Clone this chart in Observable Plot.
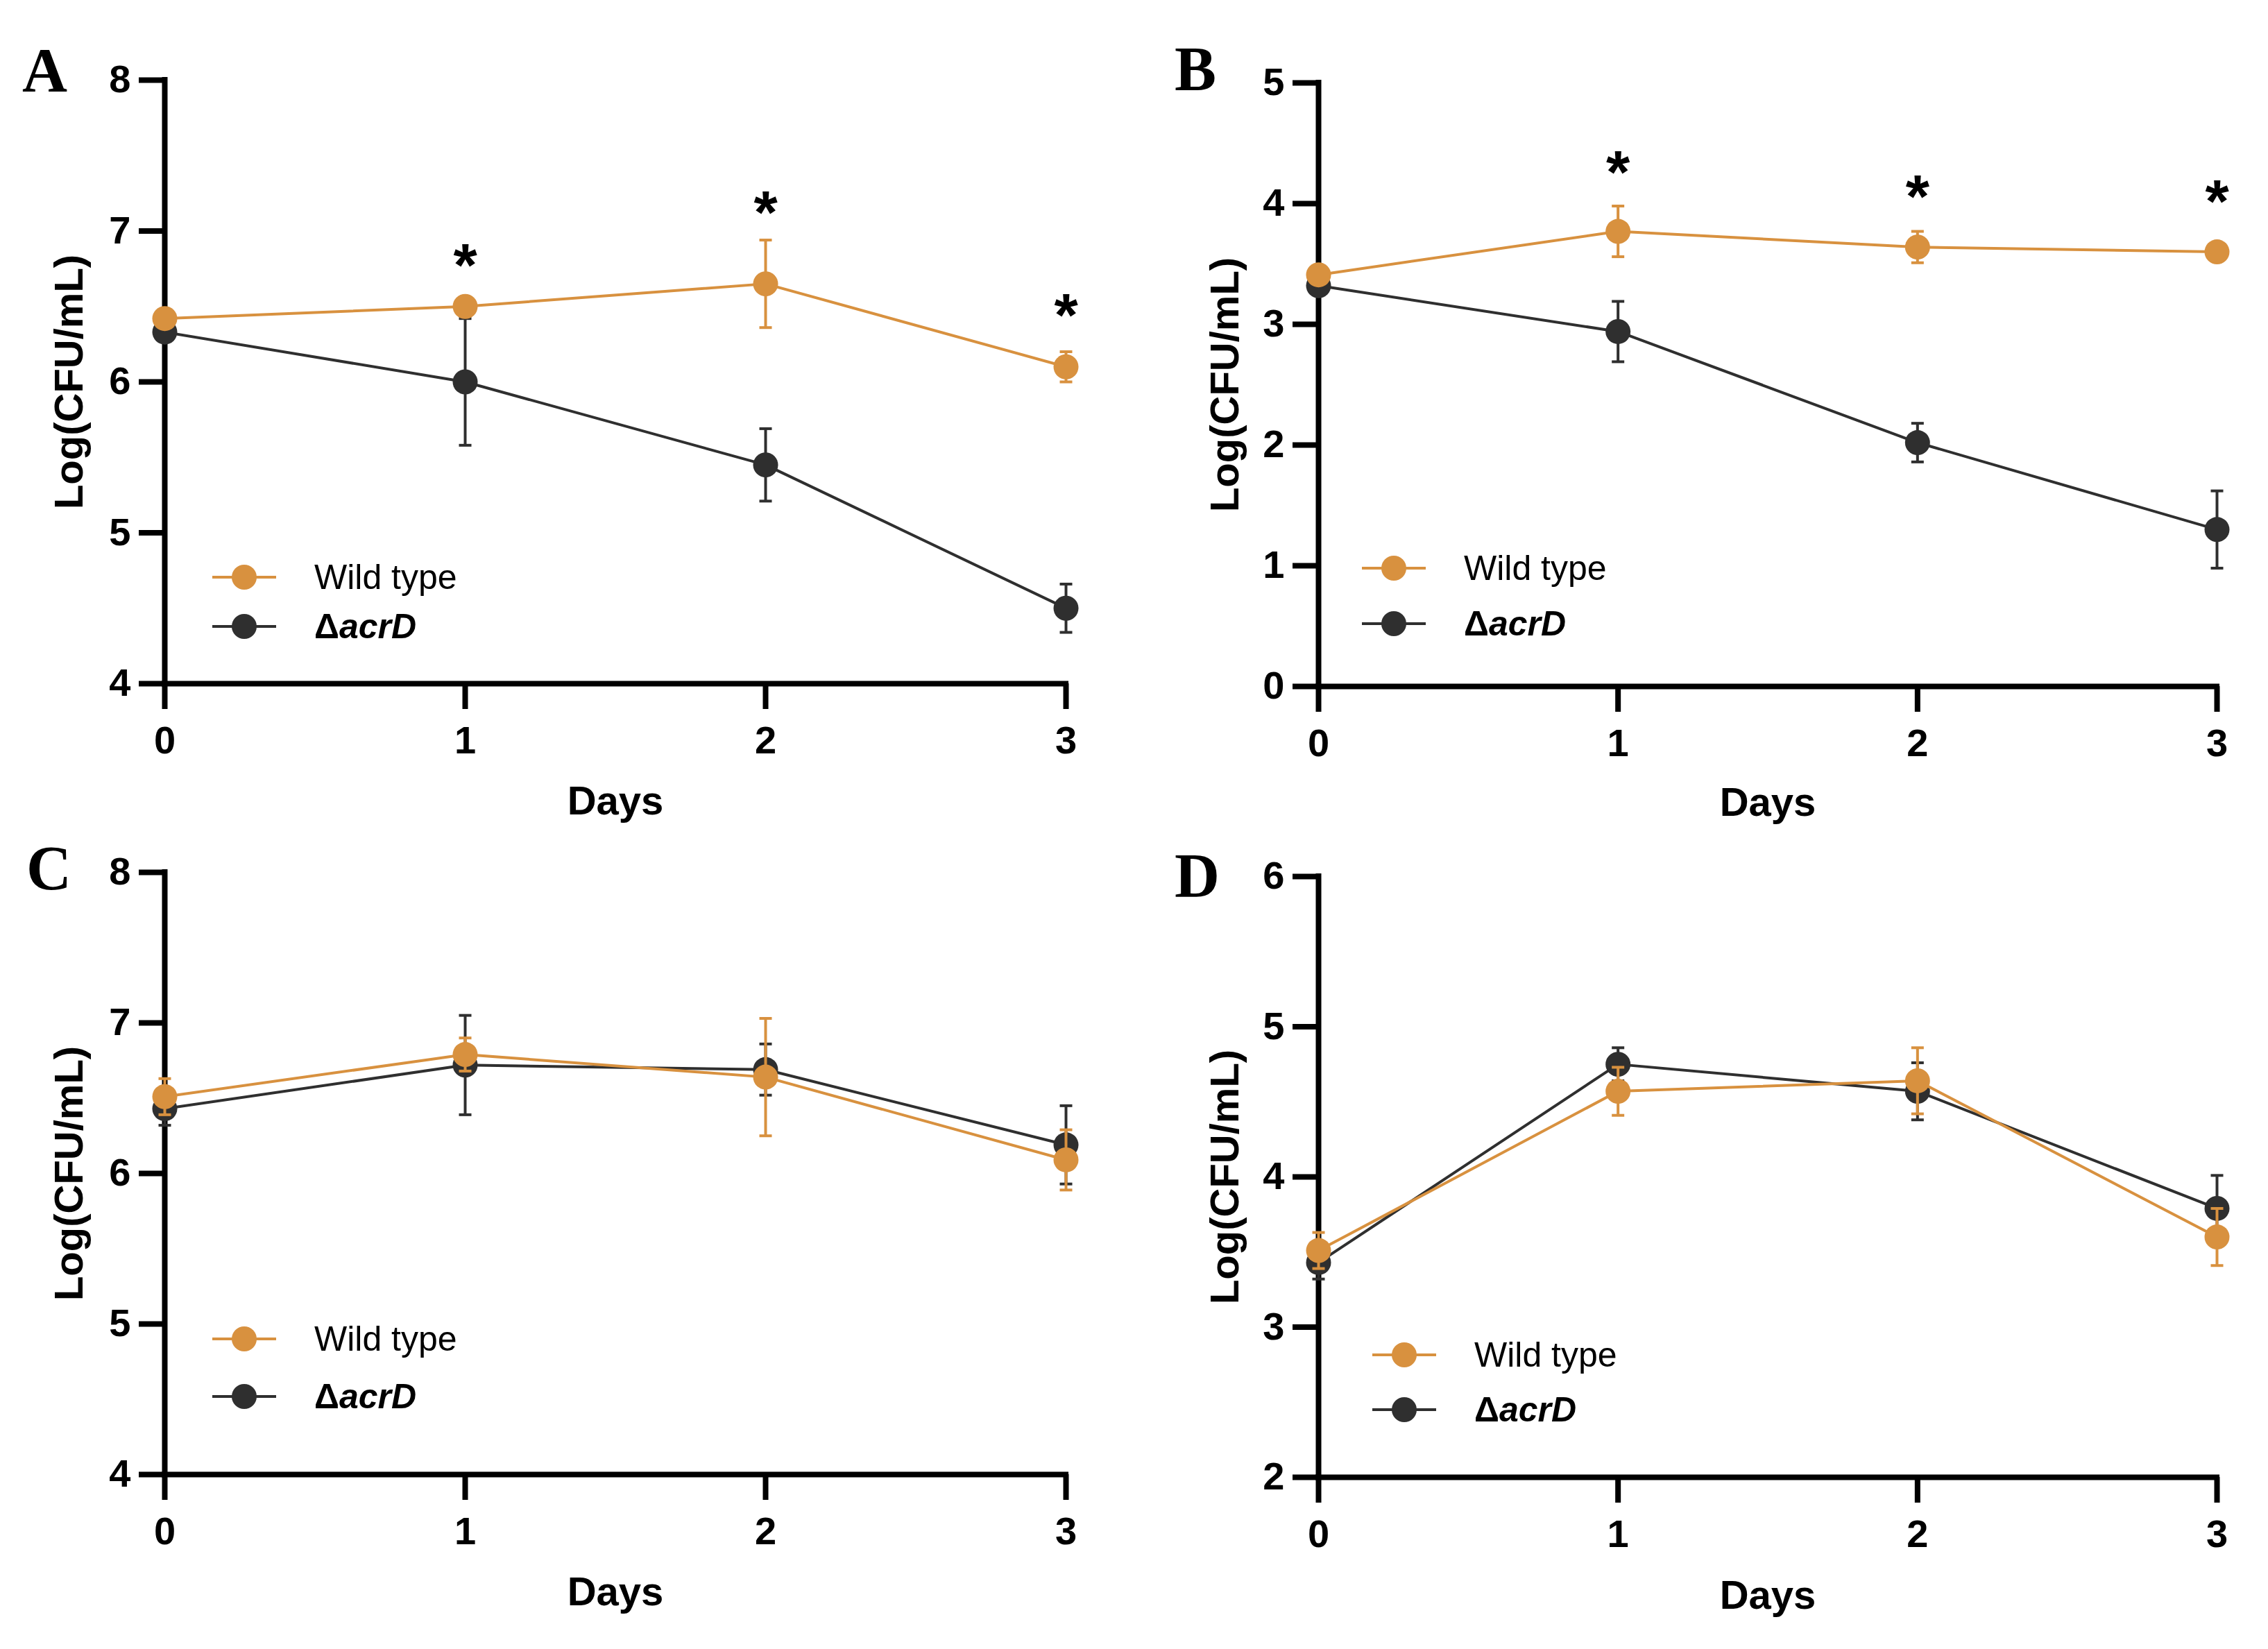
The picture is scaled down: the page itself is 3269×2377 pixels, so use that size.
<!DOCTYPE html>
<html><head><meta charset="utf-8">
<script src="https://cdn.jsdelivr.net/npm/d3@7"></script>
<script src="https://cdn.jsdelivr.net/npm/@observablehq/plot@0.6"></script>
<style>
body{margin:0;background:#fff;}
#root{position:relative;width:3269px;height:2377px;overflow:hidden;background:#fff;font-family:"Liberation Sans",Arial,sans-serif;color:#000;}
.panel{position:absolute;}
.letter{position:absolute;font-family:"Liberation Serif","Times New Roman",serif;font-weight:bold;font-size:90px;line-height:1;}
.item{position:absolute;height:60px;display:flex;align-items:center;font-size:50px;white-space:nowrap;}
.item svg{margin-right:55px;}
</style></head>
<body><div id="root"></div>
<script>
// ---- data ----
const days = [0, 1, 2, 3];
const seriesNames = ["Wild type", "ΔacrD"];
const seriesColors = ["#D8913F", "#2F2F2F"];

const A_wt = [6.42, 6.50, 6.65, 6.10];
const A_wt_err = [0.03, 0.04, 0.29, 0.10];
const A_ko = [6.33, 6.00, 5.45, 4.50];
const A_ko_err = [0.03, 0.42, 0.24, 0.16];

const B_wt = [3.41, 3.77, 3.64, 3.60];
const B_wt_err = [0.03, 0.21, 0.13, 0.03];
const B_ko = [3.32, 2.94, 2.02, 1.30];
const B_ko_err = [0.03, 0.25, 0.16, 0.32];

const C_wt = [6.51, 6.79, 6.64, 6.09];
const C_wt_err = [0.12, 0.11, 0.39, 0.20];
const C_ko = [6.43, 6.72, 6.69, 6.19];
const C_ko_err = [0.11, 0.33, 0.17, 0.26];

const D_wt = [3.51, 4.57, 4.64, 3.60];
const D_wt_err = [0.12, 0.16, 0.22, 0.19];
const D_ko = [3.43, 4.75, 4.57, 3.79];
const D_ko_err = [0.11, 0.11, 0.19, 0.22];

const A_yTicks = [4, 5, 6, 7, 8];
const B_yTicks = [0, 1, 2, 3, 4, 5];
const C_yTicks = [4, 5, 6, 7, 8];
const D_yTicks = [2, 3, 4, 5, 6];

const A_starDays = [1, 2, 3];
const A_starY = [6.82, 7.17, 6.49];
const B_starDays = [1, 2, 3];
const B_starY = [4.32, 4.12, 4.08];

const panelLetters = ["A", "B", "C", "D"];
const yLabel = "Log(CFU/mL)";
const xLabel = "Days";

// ---- drawing ----
const root = document.getElementById("root");
const capSymbol = {draw(ctx, size) { const w = Math.sqrt(size / Math.PI); ctx.moveTo(-w, 0); ctx.lineTo(w, 0); }};

function rowsOf(means, errs, s) {
  return days.map((d, i) => ({day: d, mean: means[i], lo: means[i] - errs[i], hi: means[i] + errs[i], series: s}));
}

function panel(cfg) {
  const ko = rowsOf(cfg.ko, cfg.koErr, 1);
  const wt = rowsOf(cfg.wt, cfg.wtErr, 0);
  const ymin = cfg.yTicks[0], ymax = cfg.yTicks[cfg.yTicks.length - 1];
  const marks = [
    Plot.ruleX([0], {stroke: "#000", strokeWidth: 8, strokeLinecap: "square"}),
    Plot.ruleY([ymin], {stroke: "#000", strokeWidth: 8, strokeLinecap: "square"}),
    Plot.axisX({ticks: days, tickSize: 37, tickPadding: 24, strokeWidth: 8, fontWeight: "bold", fontSize: 56, label: null, tickFormat: d => String(d)}),
    Plot.axisY({ticks: cfg.yTicks, tickSize: 37, tickPadding: 12, strokeWidth: 8, fontWeight: "bold", fontSize: 56, label: null, tickFormat: d => String(d)}),
    Plot.text([yLabel], {frameAnchor: "left", textAnchor: "middle", dx: cfg.yLabelDx, rotate: -90, fontWeight: "bold", fontSize: 58, fill: "#000"}),
    Plot.text([xLabel], {frameAnchor: "bottom", textAnchor: "middle", dy: cfg.xLabelDy, fontWeight: "bold", fontSize: 58, fill: "#000"})
  ];
  for (const [rows, s] of [[ko, 1], [wt, 0]]) {
    const c = seriesColors[s];
    marks.push(
      Plot.line(rows, {x: "day", y: "mean", stroke: c, strokeWidth: 4}),
      Plot.ruleX(rows, {x: "day", y1: "lo", y2: "hi", stroke: c, strokeWidth: 4}),
      Plot.dot(rows, {x: "day", y: "hi", symbol: capSymbol, r: 9, stroke: c, strokeWidth: 4, fill: "none"}),
      Plot.dot(rows, {x: "day", y: "lo", symbol: capSymbol, r: 9, stroke: c, strokeWidth: 4, fill: "none"}),
      Plot.dot(rows, {x: "day", y: "mean", r: 18, fill: c, stroke: "none"})
    );
  }
  if (cfg.starDays) {
    const stars = cfg.starDays.map((d, i) => ({day: d, y: cfg.starY[i]}));
    marks.push(Plot.text(stars, {x: "day", y: "y", text: () => "*", fontSize: 88, fontWeight: "bold", fill: "#000", dy: 12}));
  }
  const svg = Plot.plot({
    width: cfg.w, height: cfg.h,
    marginLeft: cfg.m[0], marginRight: cfg.m[1], marginTop: cfg.m[2], marginBottom: cfg.m[3],
    x: {domain: [0, 3]},
    y: {domain: [ymin, ymax]},
    style: {fontFamily: "'Liberation Sans', Arial, sans-serif", background: "transparent", color: "#000", overflow: "visible"},
    marks
  });
  const div = document.createElement("div");
  div.className = "panel";
  div.style.left = cfg.left + "px";
  div.style.top = cfg.top + "px";
  div.appendChild(svg);
  root.appendChild(div);

  const L = document.createElement("div");
  L.className = "letter";
  L.textContent = cfg.letter;
  L.style.left = cfg.letterPos[0] + "px";
  L.style.top = cfg.letterPos[1] + "px";
  root.appendChild(L);

  cfg.legendY.forEach((y, s) => {
    const it = document.createElement("div");
    it.className = "item";
    it.style.left = cfg.legendX + "px";
    it.style.top = (y - 30) + "px";
    const c = seriesColors[s];
    it.innerHTML = `<svg width="92" height="40"><line x1="0" x2="92" y1="20" y2="20" stroke="${c}" stroke-width="4"/><circle cx="46" cy="20" r="18" fill="${c}"/></svg>` +
      (s === 0 ? `<span>${seriesNames[0]}</span>` : `<span style="font-weight:bold">Δ<i>${seriesNames[1].slice(1)}</i></span>`);
    root.appendChild(it);
  });
}

panel({letter: panelLetters[0], left: 0, top: 0, w: 1634, h: 1188, m: [237, 98, 115, 203],
  wt: A_wt, wtErr: A_wt_err, ko: A_ko, koErr: A_ko_err, yTicks: A_yTicks,
  starDays: A_starDays, starY: A_starY, yLabelDx: -137, xLabelDy: 188,
  letterPos: [32, 57], legendX: 306, legendY: [832, 903]});
panel({letter: panelLetters[1], left: 1634, top: 0, w: 1635, h: 1188, m: [266, 74, 119, 199],
  wt: B_wt, wtErr: B_wt_err, ko: B_ko, koErr: B_ko_err, yTicks: B_yTicks,
  starDays: B_starDays, starY: B_starY, yLabelDx: -134, xLabelDy: 186,
  letterPos: [1693, 55], legendX: 1963, legendY: [819, 899]});
panel({letter: panelLetters[2], left: 0, top: 1188, w: 1634, h: 1189, m: [237, 98, 69, 252],
  wt: C_wt, wtErr: C_wt_err, ko: C_ko, koErr: C_ko_err, yTicks: C_yTicks,
  yLabelDx: -137, xLabelDy: 188,
  letterPos: [38, 1207], legendX: 306, legendY: [1930, 2013]});
panel({letter: panelLetters[3], left: 1634, top: 1188, w: 1635, h: 1189, m: [266, 74, 75, 248],
  wt: D_wt, wtErr: D_wt_err, ko: D_ko, koErr: D_ko_err, yTicks: D_yTicks,
  yLabelDx: -134, xLabelDy: 189,
  letterPos: [1693, 1218], legendX: 1978, legendY: [1953, 2032]});
</script>
</body></html>
